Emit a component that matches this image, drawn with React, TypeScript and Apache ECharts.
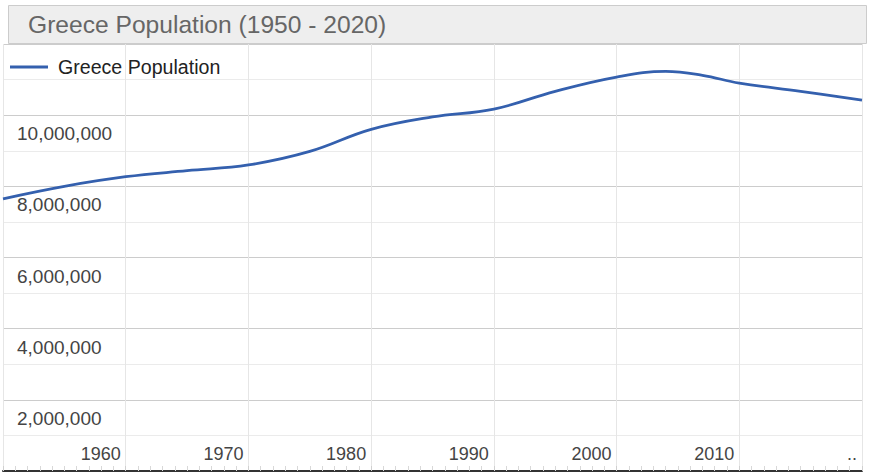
import React, { useEffect, useRef } from "react";
import * as echarts from "echarts";

const titleText = "Greece Population (1950 - 2020)";
const seriesName = "Greece Population";
const years = [1950, 1955, 1960, 1965, 1970, 1975, 1980, 1985, 1990, 1995, 2000, 2004, 2007, 2010, 2015, 2020];
const population = [7650000, 8000000, 8270000, 8440000, 8600000, 8980000, 9600000, 9950000, 10170000, 10670000, 11070000, 11230000, 11120000, 10900000, 10670000, 10420000];
const yLabelValues = [2000000, 4000000, 6000000, 8000000, 10000000];
const xLabelYears = [1960, 1970, 1980, 1990, 2000, 2010];

const FONT = "'Liberation Sans', Arial, sans-serif";

export default function App() {
  const ref = useRef<HTMLDivElement>(null);
  useEffect(() => {
    if (!ref.current) return;
    const chart = echarts.init(ref.current, null, { renderer: "svg" });
    const data = years.map((y, i) => [y, population[i]]);
    chart.setOption({
      animation: false,
      backgroundColor: "#ffffff",
      textStyle: { fontFamily: FONT },
      graphic: [
        {
          type: "rect",
          left: 8,
          top: 5,
          shape: { width: 858, height: 38 },
          style: { fill: "#eeeeee", stroke: "#cccccc", lineWidth: 1 },
          z: 10,
        },
        {
          type: "text",
          left: 28,
          top: 12,
          style: { text: titleText, fill: "#666666", font: `24.6px ${FONT}` },
          z: 11,
        },
      ],
      legend: {
        left: 5,
        top: 52,
        icon: "rect",
        itemWidth: 38,
        itemHeight: 3,
        textStyle: { fontSize: 19.6, color: "#222222", padding: [0, 0, 0, 5], fontFamily: FONT },
        data: [seriesName],
      },
      grid: { left: 3, right: 18, top: 44, bottom: 5, containLabel: false },
      xAxis: {
        type: "value",
        min: 1950,
        max: 2020,
        interval: 10,
        axisLine: { show: true, lineStyle: { color: "#333333", width: 2 } },
        axisTick: { show: true, inside: true, length: 5, lineStyle: { color: "#d0d0d0" } },
        minorTick: { show: true, splitNumber: 10, length: 5, lineStyle: { color: "#d8d8d8" } },
        splitLine: { show: true, lineStyle: { color: "#e6e6e6" } },
        axisLabel: {
          inside: true,
          margin: 8,
          align: "right",
          padding: [0, 5, 0, 0],
          fontSize: 18,
          color: "#444444",
          showMinLabel: true,
          showMaxLabel: true,
          formatter: (v: number) => (xLabelYears.includes(v) ? String(v) : v === 2020 ? ".." : ""),
        },
      },
      yAxis: {
        type: "value",
        min: 0,
        max: 12000000,
        interval: 1000000,
        axisLine: { show: false },
        axisTick: { show: false },
        splitLine: { show: true, lineStyle: { color: ["#cccccc", "#ebebeb"] } },
        axisLabel: {
          inside: true,
          margin: 14,
          verticalAlign: "top",
          padding: [9, 0, 0, 0],
          fontSize: 19,
          color: "#444444",
          formatter: (v: number) => (yLabelValues.includes(v) ? v.toLocaleString("en-US") : ""),
        },
      },
      series: [
        {
          name: seriesName,
          type: "line",
          data,
          smooth: 0.4,
          showSymbol: false,
          symbol: "none",
          lineStyle: { color: "#3460ae", width: 2.8 },
          itemStyle: { color: "#3460ae" },
        },
      ],
    });
    return () => chart.dispose();
  }, []);
  return (
    <div
      ref={ref}
      style={{ position: "fixed", left: 0, top: 0, width: 880, height: 476, background: "#fff" }}
    />
  );
}
